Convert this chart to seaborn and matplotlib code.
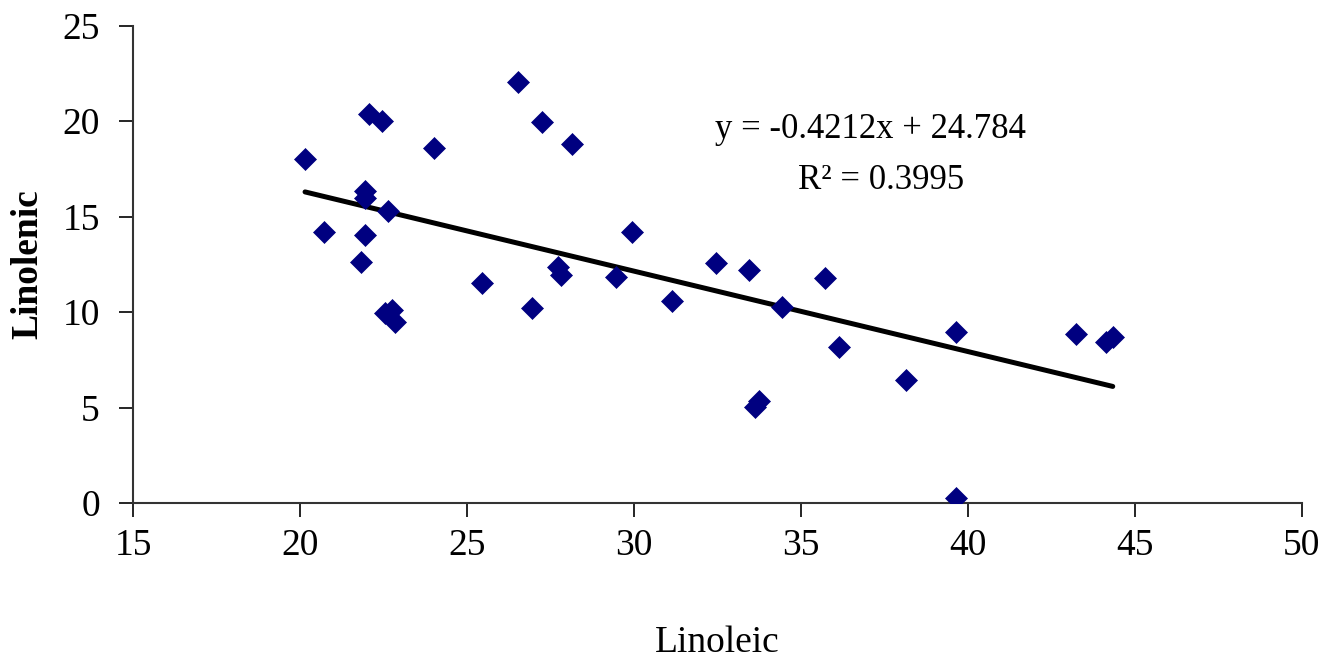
import matplotlib
matplotlib.use("Agg")
import matplotlib.pyplot as plt
import seaborn as sns
import numpy as np
import pandas as pd

linoleic = [20.15, 20.72, 21.95, 21.95, 21.95, 21.83, 22.07, 22.46, 22.63, 22.54,
            22.75, 22.84, 24.01, 26.53, 27.25, 28.14, 29.94, 27.72, 27.81, 29.46,
            25.45, 26.95, 31.14, 32.46, 33.44, 35.72, 34.43, 36.14, 33.74, 33.62,
            38.14, 39.64, 43.23, 44.13, 44.34, 39.64]
linolenic = [18.03, 14.2, 16.35, 16.0, 14.05, 12.6, 20.4, 20.0, 15.3, 9.96,
             10.1, 9.5, 18.6, 22.07, 19.97, 18.8, 14.2, 12.37, 11.95, 11.84,
             11.53, 10.22, 10.59, 12.58, 12.21, 11.79, 10.27, 8.18, 5.35, 5.03,
             6.45, 8.96, 8.86, 8.44, 8.7, 0.26]
slope = -0.4212
intercept = 24.784
r2 = 0.3995
x_ticks = [15, 20, 25, 30, 35, 40, 45, 50]
y_ticks = [0, 5, 10, 15, 20, 25]

sns.set_style("white")
plt.rcParams['font.family'] = ['Liberation Serif', 'DejaVu Serif']
plt.rcParams['text.color'] = 'black'
plt.rcParams['axes.labelcolor'] = 'black'
plt.rcParams['xtick.color'] = 'black'
plt.rcParams['ytick.color'] = 'black'

df = pd.DataFrame({"Linoleic": linoleic, "Linolenic": linolenic})
fit_x = np.array([min(linoleic), max(linoleic)])
fit_df = pd.DataFrame({"x": fit_x, "y": slope * fit_x + intercept})

fig = plt.figure(figsize=(13.31, 6.61), dpi=100)
ax = fig.add_axes([0.1, 0.239, 0.878, 0.722])

sns.lineplot(data=fit_df, x="x", y="y", color="black", linewidth=3.6, ax=ax, zorder=2)
sns.scatterplot(data=df, x="Linoleic", y="Linolenic", marker="D", s=125,
                color="#000080", edgecolor="#000080", linewidth=0.5, ax=ax, zorder=3)

ax.set_xlim(15, 50)
ax.set_ylim(0, 25)
ax.set_xticks(x_ticks)
ax.set_yticks(y_ticks)
ax.tick_params(axis="both", labelsize=27, direction="out", length=10, width=1.2,
               color="black", left=True, bottom=True)
ax.tick_params(axis="y", pad=14)
ax.tick_params(axis="x", pad=8)
for s in ["top", "right"]:
    ax.spines[s].set_visible(False)
for s in ["left", "bottom"]:
    ax.spines[s].set_color("#333333")
    ax.spines[s].set_linewidth(1.5)

ax.set_xlabel("Linoleic", fontsize=27, labelpad=45)
ax.set_ylabel("Linolenic", fontsize=27, fontweight="bold", labelpad=12)

eq = f"y = {slope:.4f}x + {intercept:.3f}"
ax.text(37.07, 19.55, eq, fontsize=25, ha="center", va="center")
ax.text(37.4, 16.9, f"R² = {r2:.4f}", fontsize=25, ha="center", va="center")

fig.savefig("out.png", dpi=100)
